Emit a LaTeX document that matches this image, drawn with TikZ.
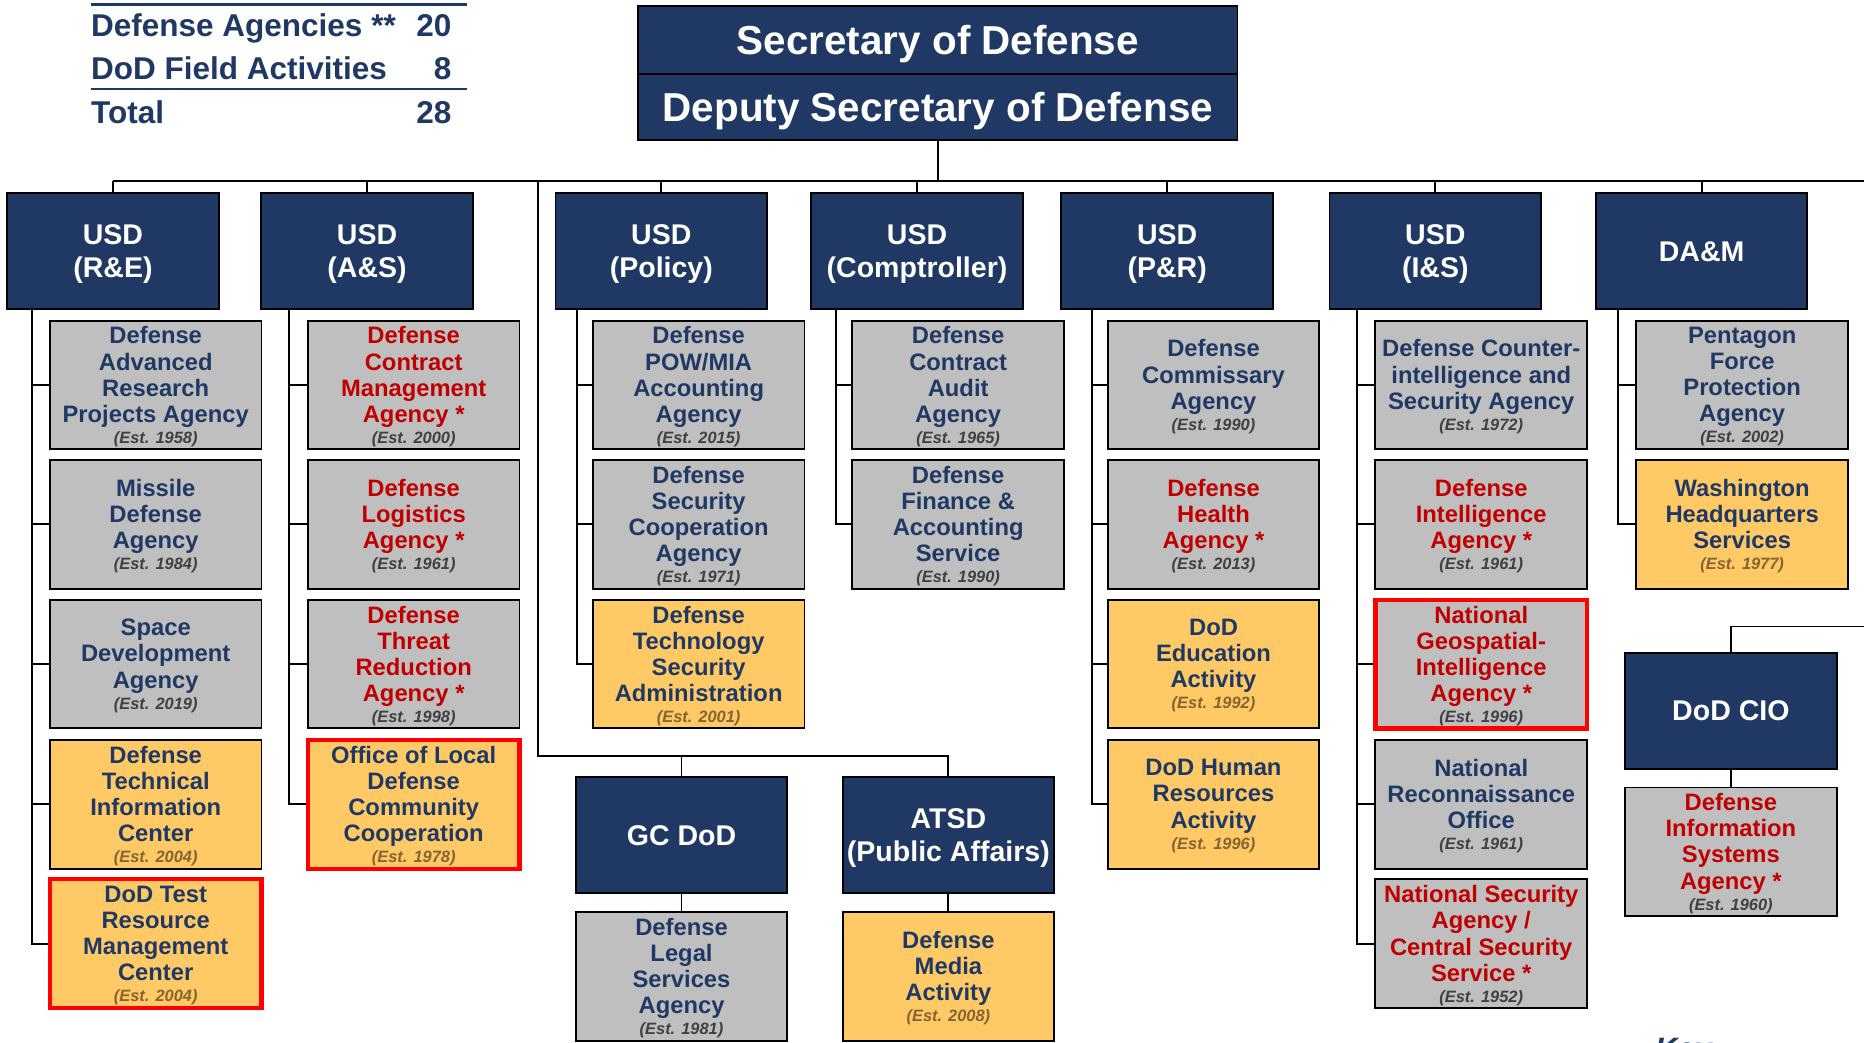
\documentclass[tikz,border=0pt]{standalone}
\usepackage{fontspec}
\setmainfont{Liberation Sans}
\definecolor{navy}{RGB}{31,56,100}
\definecolor{grayfill}{RGB}{191,191,191}
\definecolor{yelfill}{RGB}{255,202,102}
\definecolor{redtxt}{RGB}{192,0,0}
\definecolor{redframe}{RGB}{255,0,0}
\definecolor{estgray}{RGB}{64,64,64}
\definecolor{estbrown}{RGB}{133,100,50}
\newcommand\hdrfont{\fontsize{24}{28}\selectfont\bfseries}
\newcommand\secfont{\fontsize{34}{40}\selectfont\bfseries}
\newcommand\agfont{\fontsize{20}{22}\selectfont\bfseries}
\newcommand\estfont{\fontsize{13.8}{16}\selectfont\bfseries\itshape}
\newcommand\tabfont{\fontsize{26.5}{30}\selectfont\bfseries}
\newcommand\estg[1]{\\[-4.3pt]{\estfont\color{estgray}(Est. #1)}}
\newcommand\esty[1]{\\[-4.3pt]{\estfont\color{estbrown}(Est. #1)}}
\begin{document}
\begin{tikzpicture}[x=1pt,y=-1pt,
  conn/.style={draw=black, line width=1.6},
  busline/.style={draw=black, line width=2.4},
  hdr/.style={fill=navy, draw=black, line width=1.6, minimum width=178, minimum height=97.6, inner sep=0, text=white, align=center, font=\hdrfont, text depth=0pt},
  agbase/.style={draw=black, line width=1.6, minimum width=178, minimum height=108.3, inner sep=0},
  gbox/.style={agbase, fill=grayfill},
  ybox/.style={agbase, fill=yelfill},
  rframe/.style={draw=redframe, line width=3.5},
  nt/.style={align=center, font=\agfont, text=navy, inner sep=0, yshift=-1.5pt},
  rt/.style={nt, text=redtxt},
  tabtxt/.style={font=\tabfont, text=navy, inner sep=0},
  tabline/.style={draw=navy, line width=2.2}
]
\useasboundingbox (0,0) rectangle (1568,877.37);
\fill[white] (0,0) rectangle (1568,877.37);

% summary table
\node[tabtxt, anchor=base west] (t1) at (76.5,30.8) {Defense Agencies **};
\node[tabtxt, anchor=base east] (n1) at (380,30.8) {20};
\node[tabtxt, anchor=base west] (t2) at (76.5,67) {DoD Field Activities};
\node[tabtxt, anchor=base east] (n2) at (380,67) {8};
\node[tabtxt, anchor=base west] (t3) at (76.5,104.3) {Total};
\node[tabtxt, anchor=base east] (n3) at (380,104.3) {28};
\draw[tabline] (76.5,3.8) -- (393,3.8);
\draw[tabline] (76.5,74.8) -- (393,74.8);

% top
\node[hdr, minimum width=504, minimum height=57, font=\secfont] (sec) at (789,33.5) {Secretary of Defense};
\node[hdr, minimum width=504, minimum height=56, font=\secfont] (dep) at (789,90) {Deputy Secretary of Defense};

% headers
\node[hdr] (re) at (95,211.4) {USD\\(R\&E)};
\node[hdr] (as) at (308.8,211.4) {USD\\(A\&S)};
\node[hdr] (pol) at (556.3,211.4) {USD\\(Policy)};
\node[hdr] (comp) at (771.4,211.4) {USD\\(Comptroller)};
\node[hdr] (pr) at (981.8,211.4) {USD\\(P\&R)};
\node[hdr] (is) at (1207.4,211.4) {USD\\(I\&S)};
\node[hdr] (dam) at (1431.4,211.4) {DA\&M};
\node[hdr] (gc) at (573.3,702.7) {GC DoD};
\node[hdr] (atsd) at (797.8,702.7) {ATSD\\(Public Affairs)};
\node[hdr] (cio) at (1456,597.9) {DoD CIO};

% bus
\coordinate (busL) at (95,152.2);
\coordinate (busR) at (1568,152.2);
\draw[busline] (busL) -- (busR);
\draw[conn] (dep.south) -- (dep.south |- busL);
\foreach \h in {re,as,pol,comp,pr,is,dam} \draw[conn] (\h.north) -- (\h.north |- busL);

% GC / ATSD branch
\coordinate (vL) at (452.6,152.2);
\coordinate (gcbar) at (452.6,635.8);
\draw[conn] (vL) -- (gcbar) -| (atsd.north);
\draw[conn] (gc.north) -- (gc.north |- gcbar);

% CIO branch
\coordinate (cioR) at (1568,527);
\draw[conn] (cioR) -| (cio.north);

% R&E column
\node[gbox, label={[nt]center:{Defense\\Advanced\\Research\\Projects Agency\estg{1958}}}] (darpa) at (131,323.8) {};
\node[gbox, label={[nt]center:{Missile\\Defense\\Agency\estg{1984}}}] (mda) at (131,441) {};
\node[gbox, label={[nt]center:{Space\\Development\\Agency\estg{2019}}}] (sda) at (131,558.6) {};
\node[ybox, label={[nt]center:{Defense\\Technical\\Information\\Center\esty{2004}}}] (dtic) at (131,676.5) {};
\node[ybox, rframe, label={[nt]center:{DoD Test\\Resource\\Management\\Center\esty{2004}}}] (trmc) at (131,793.9) {};

% A&S column
\node[gbox, label={[rt]center:{Defense\\Contract\\Management\\Agency *\estg{2000}}}] (dcma) at (348,323.8) {};
\node[gbox, label={[rt]center:{Defense\\Logistics\\Agency *\estg{1961}}}] (dla) at (348,441) {};
\node[gbox, label={[rt]center:{Defense\\Threat\\Reduction\\Agency *\estg{1998}}}] (dtra) at (348,558.6) {};
\node[ybox, rframe, label={[nt]center:{Office of Local\\Defense\\Community\\Cooperation\esty{1978}}}] (oldcc) at (348,676.5) {};

% Policy column
\node[gbox, label={[nt]center:{Defense\\POW/MIA\\Accounting\\Agency\estg{2015}}}] (dpaa) at (587.7,323.8) {};
\node[gbox, label={[nt]center:{Defense\\Security\\Cooperation\\Agency\estg{1971}}}] (dsca) at (587.7,441) {};
\node[ybox, label={[nt]center:{Defense\\Technology\\Security\\Administration\esty{2001}}}] (dtsa) at (587.7,558.6) {};

% Comptroller column
\node[gbox, label={[nt]center:{Defense\\Contract\\Audit\\Agency\estg{1965}}}] (dcaa) at (806,323.8) {};
\node[gbox, label={[nt]center:{Defense\\Finance \&\\Accounting\\Service\estg{1990}}}] (dfas) at (806,441) {};

% P&R column
\node[gbox, label={[nt]center:{Defense\\Commissary\\Agency\estg{1990}}}] (deca) at (1020.8,323.8) {};
\node[gbox, label={[rt]center:{Defense\\Health\\Agency *\estg{2013}}}] (dha) at (1020.8,441) {};
\node[ybox, label={[nt]center:{DoD\\Education\\Activity\esty{1992}}}] (dodea) at (1020.8,558.6) {};
\node[ybox, label={[nt]center:{DoD Human\\Resources\\Activity\esty{1996}}}] (dhra) at (1020.8,676.5) {};

% I&S column
\node[gbox, label={[nt]center:{Defense Counter-\\intelligence and\\Security Agency\estg{1972}}}] (dcsa) at (1246,323.8) {};
\node[gbox, label={[rt]center:{Defense\\Intelligence\\Agency *\estg{1961}}}] (dia) at (1246,441) {};
\node[gbox, rframe, label={[rt]center:{National\\Geospatial-\\Intelligence\\Agency *\estg{1996}}}] (nga) at (1246,558.6) {};
\node[gbox, label={[nt]center:{National\\Reconnaissance\\Office\estg{1961}}}] (nro) at (1246,676.5) {};
\node[gbox, label={[rt]center:{National Security\\Agency /\\Central Security\\Service *\estg{1952}}}] (nsa) at (1246,793.9) {};

% DA&M column
\node[gbox, label={[nt]center:{Pentagon\\Force\\Protection\\Agency\estg{2002}}}] (pfpa) at (1465.5,323.8) {};
\node[ybox, label={[nt]center:{Washington\\Headquarters\\Services\esty{1977}}}] (whs) at (1465.5,441) {};

% GC, ATSD, CIO children
\node[gbox, label={[nt]center:{Defense\\Legal\\Services\\Agency\estg{1981}}}] (dlsa) at (573.3,821.2) {};
\node[ybox, label={[nt]center:{Defense\\Media\\Activity\esty{2008}}}] (dma) at (797.8,821.2) {};
\node[gbox, minimum height=108, label={[rt]center:{Defense\\Information\\Systems\\Agency *\estg{1960}}}] (disa) at (1456,716.4) {};

\draw[conn] (gc.south) -- (dlsa.north);
\draw[conn] (atsd.south) -- (dma.north);
\draw[conn] (cio.south) -- (disa.north);

% spines
\coordinate (sRE) at (27,260.2);
\coordinate (sAS) at (243.3,260.2);
\coordinate (sPO) at (485.3,260.2);
\coordinate (sCO) at (703.3,260.2);
\coordinate (sPR) at (918.9,260.2);
\coordinate (sIS) at (1141.4,260.2);
\coordinate (sDA) at (1361.4,260.2);
\foreach \b in {darpa,mda,sda,dtic,trmc} \draw[conn] (sRE) |- (\b.west);
\foreach \b in {dcma,dla,dtra,oldcc} \draw[conn] (sAS) |- (\b.west);
\foreach \b in {dpaa,dsca,dtsa} \draw[conn] (sPO) |- (\b.west);
\foreach \b in {dcaa,dfas} \draw[conn] (sCO) |- (\b.west);
\foreach \b in {deca,dha,dodea,dhra} \draw[conn] (sPR) |- (\b.west);
\foreach \b in {dcsa,dia,nga,nro,nsa} \draw[conn] (sIS) |- (\b.west);
\foreach \b in {pfpa,whs} \draw[conn] (sDA) |- (\b.west);

% key (cut off at the bottom edge, as in the reference)
\node[anchor=base west, font=\fontsize{26}{30}\selectfont\bfseries\itshape, text=navy, inner sep=0] (key) at (1392,891) {Key};
\end{tikzpicture}
\end{document}
